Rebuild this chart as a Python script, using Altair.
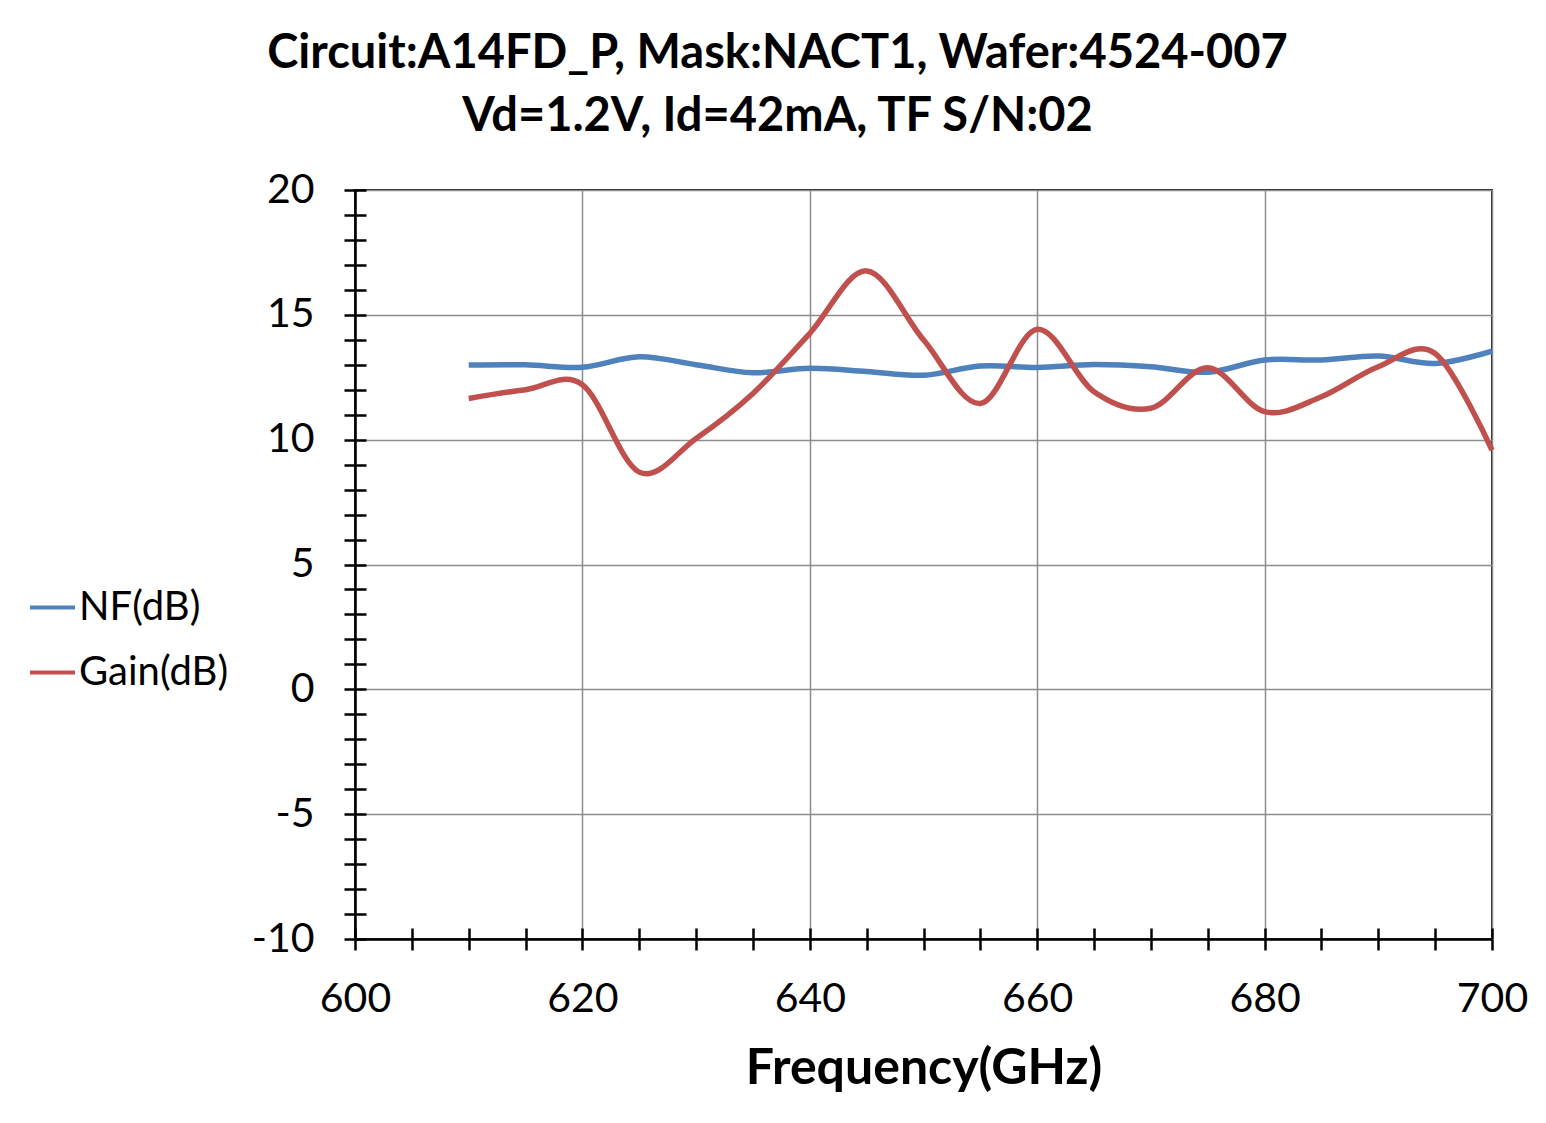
import altair as alt
import pandas as pd

# ---- data ----
freq = [610, 615, 620, 625, 630, 635, 640, 645, 650, 655, 660, 665, 670, 675, 680, 685, 690, 695, 700]
nf_db = [12.99, 13.0, 12.9, 13.32, 13.0, 12.68, 12.86, 12.73, 12.58, 12.95, 12.89, 13.01, 12.92, 12.7, 13.19, 13.19, 13.35, 13.05, 13.55]
gain_db = [11.65, 12.0, 12.2, 8.7, 10.05, 11.85, 14.26, 16.76, 14.0, 11.45, 14.42, 11.92, 11.26, 12.88, 11.12, 11.72, 12.92, 13.45, 9.58]

series_names = ["NF(dB)", "Gain(dB)"]
series_colors = ["#4F81BD", "#C0504D"]

x_ticks = list(range(600, 701, 5))
y_ticks = list(range(-10, 21, 1))

title_lines = ["Circuit:A14FD_P, Mask:NACT1, Wafer:4524-007", "Vd=1.2V, Id=42mA, TF S/N:02"]
x_title = "Frequency(GHz)"

rows = []
for f, n, g in zip(freq, nf_db, gain_db):
    rows.append({"freq": f, "value": n, "series": series_names[0]})
    rows.append({"freq": f, "value": g, "series": series_names[1]})
df = pd.DataFrame(rows)

FONT = "Lato"
x_scale = alt.Scale(domain=[600, 700], nice=False, zero=False)
y_scale = alt.Scale(domain=[-10, 20], nice=False, zero=False)

base = alt.Chart(df)

lines = base.mark_line(interpolate="cardinal", strokeWidth=5.5).encode(
    x=alt.X("freq:Q", scale=x_scale, axis=alt.Axis(
        orient="bottom", values=x_ticks, title=x_title,
        labelExpr="datum.value % 20 === 0 ? '' + datum.value : ''",
        labelFont=FONT, labelFontSize=41, labelColor="black", labelPadding=29,
        labelFlush=False, labelOverlap=False,
        titleFont=FONT, titleFontSize=50, titleFontWeight="bold", titleColor="black", titlePadding=24,
        domain=True, domainColor="black", domainWidth=2.5,
        ticks=True, tickSize=11, tickColor="black", tickWidth=2.5,
        grid=True, gridColor="#8c8c8c", gridWidth=1.5,
        gridOpacity={"condition": {"test": "datum.value % 20 === 0", "value": 1}, "value": 0},
    )),
    y=alt.Y("value:Q", scale=y_scale, axis=alt.Axis(
        orient="left", values=y_ticks, title=None,
        labelExpr="datum.value % 5 === 0 ? '' + datum.value : ''",
        labelFont=FONT, labelFontSize=41, labelColor="black", labelPadding=30,
        labelFlush=False, labelOverlap=False,
        domain=True, domainColor="black", domainWidth=2.5,
        ticks=True, tickSize=11, tickColor="black", tickWidth=2.5,
        grid=True, gridColor="#8c8c8c", gridWidth=1.5,
        gridOpacity={"condition": {"test": "datum.value % 5 === 0", "value": 1}, "value": 0},
    )),
    color=alt.Color("series:N", scale=alt.Scale(domain=series_names, range=series_colors),
                    sort=series_names,
                    legend=alt.Legend(
                        title=None, orient="none", legendX=-327, legendY=393,
                        symbolType="stroke", symbolSize=2025, symbolStrokeWidth=4,
                        labelFont=FONT, labelFontSize=40, labelColor="black",
                        labelOffset=2, rowPadding=20, padding=0,
                    )),
)

inner_ticks = base.mark_point(opacity=0).encode(
    x=alt.X("freq:Q", scale=x_scale, axis=alt.Axis(
        orient="bottom", values=x_ticks, title=None, offset=-11,
        labels=False, domain=False, grid=False,
        ticks=True, tickSize=11, tickColor="black", tickWidth=2.5,
    )),
    y=alt.Y("value:Q", scale=y_scale, axis=alt.Axis(
        orient="left", values=y_ticks, title=None, offset=-11,
        labels=False, domain=False, grid=False,
        ticks=True, tickSize=11, tickColor="black", tickWidth=2.5,
    )),
)

chart = alt.layer(inner_ticks, lines).resolve_axis(
    x="independent", y="independent"
).properties(
    width=1137, height=749,
    title=alt.TitleParams(
        text=title_lines, font=FONT, fontSize=47, fontWeight="bold", color="black",
        anchor="middle", dx=-146, lineHeight=63, offset=28,
    ),
    autosize=alt.AutoSizeParams(type="none"),
    padding={"left": 347, "top": 182, "right": 46, "bottom": 176},
).configure_view(
    stroke="#222222", strokeWidth=2
)

chart.save("out.html", embed_options={"renderer": "svg", "actions": False})
